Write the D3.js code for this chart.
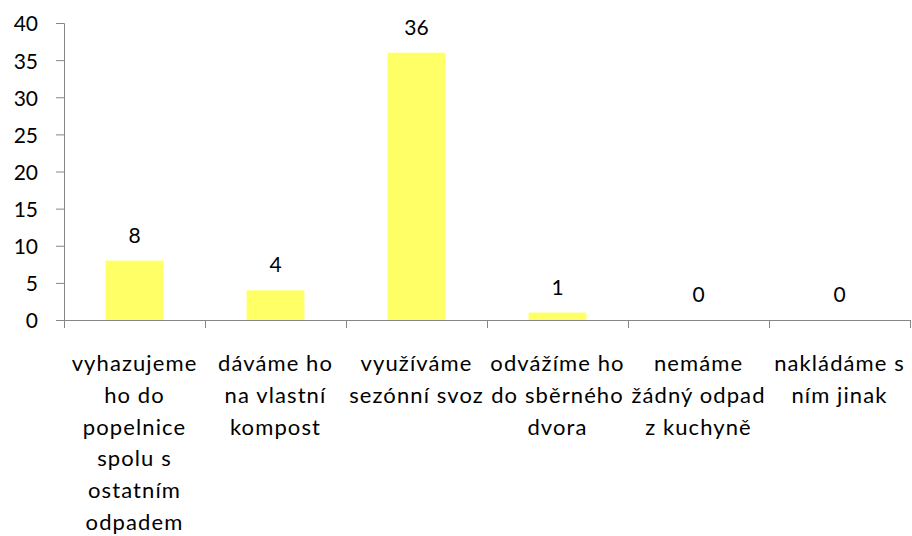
<!DOCTYPE html>
<html>
<head>
<meta charset="utf-8">
<script src="https://cdn.jsdelivr.net/npm/d3@7"></script>
<style>
  body { margin: 0; background: #fff; }
  text { font-family: Lato, "Open Sans", sans-serif; fill: #000; }
</style>
</head>
<body>
<script>
// data
let categories = [
    ["vyhazujeme", "ho do", "popelnice", "spolu s", "ostatním", "odpadem"],
    ["dáváme ho", "na vlastní", "kompost"],
    ["využíváme", "sezónní svoz"],
    ["odvážíme ho", "do sběrného", "dvora"],
    ["nemáme", "žádný odpad", "z kuchyně"],
    ["nakládáme s", "ním jinak"]
];
let values = [8, 4, 36, 1, 0, 0];
let yTicks = [0, 5, 10, 15, 20, 25, 30, 35, 40];

let SvgWidth = 912;
let SvgHeight = 536;

let Svg = d3.select("body")
    .append("svg")
    .attr("width", SvgWidth)
    .attr("height", SvgHeight)

let Margin = { Top: 23, Right: 2, Bottom: 216, Left: 64 }
let ChartWidth = SvgWidth - Margin.Left - Margin.Right;
let ChartHeight = SvgHeight - Margin.Top - Margin.Bottom;

let ChartGroup = Svg.append("g")
    .attr("transform", `translate(${Margin.Left},${Margin.Top})`)

let idx = d3.range(values.length);

let xScale = d3.scaleBand()
    .domain(idx)
    .range([0, ChartWidth])
    .paddingInner(0.59)
    .paddingOuter(0.295);

let yScale = d3.scaleLinear()
    .domain([0, 40])
    .range([ChartHeight, 0]);

// bars
ChartGroup.selectAll("rect.bar")
    .data(idx)
    .enter()
    .append("rect")
    .attr("class", "bar")
    .attr("x", i => xScale(i))
    .attr("y", i => yScale(values[i]))
    .attr("width", xScale.bandwidth())
    .attr("height", i => ChartHeight - yScale(values[i]))
    .attr("fill", "#ffff66");

// value labels
ChartGroup.selectAll("text.val")
    .data(idx)
    .enter()
    .append("text")
    .attr("class", "val")
    .attr("x", i => xScale(i) + xScale.bandwidth() / 2)
    .attr("y", i => yScale(values[i]) - 18)
    .attr("text-anchor", "middle")
    .style("font-size", "21px")
    .text(i => values[i]);

// y axis
let LeftAxis = d3.axisLeft(yScale).tickValues(yTicks).tickSize(8).tickPadding(18);
let yAxisG = ChartGroup.append("g").call(LeftAxis);
yAxisG.select(".domain").attr("stroke", "#868686");
yAxisG.selectAll(".tick line").attr("stroke", "#868686");
yAxisG.selectAll(".tick text")
    .style("font-size", "21px")
    .attr("dy", "0.38em");

// x axis (category boundaries)
let step = ChartWidth / values.length;
let xAxisG = ChartGroup.append("g").attr("transform", `translate(0,${ChartHeight})`);
xAxisG.append("line")
    .attr("x1", 0).attr("x2", ChartWidth)
    .attr("y1", 0.5).attr("y2", 0.5)
    .attr("stroke", "#868686");
xAxisG.selectAll("line.tick")
    .data(d3.range(values.length + 1))
    .enter()
    .append("line")
    .attr("class", "tick")
    .attr("x1", i => Math.round(i * step) + 0.5)
    .attr("x2", i => Math.round(i * step) + 0.5)
    .attr("y1", 0).attr("y2", 8)
    .attr("stroke", "#868686");

// category labels
idx.forEach(function (i) {
    let cx = xScale(i) + xScale.bandwidth() / 2;
    let t = xAxisG.append("text")
        .attr("text-anchor", "middle")
        .attr("x", cx)
        .attr("y", 51)
        .style("font-size", "22px")
        .style("letter-spacing", "1.1px");
    categories[i].forEach(function (line, j) {
        t.append("tspan")
            .attr("x", cx)
            .attr("dy", j == 0 ? 0 : 31.8)
            .text(line);
    });
});
</script>
</body>
</html>
